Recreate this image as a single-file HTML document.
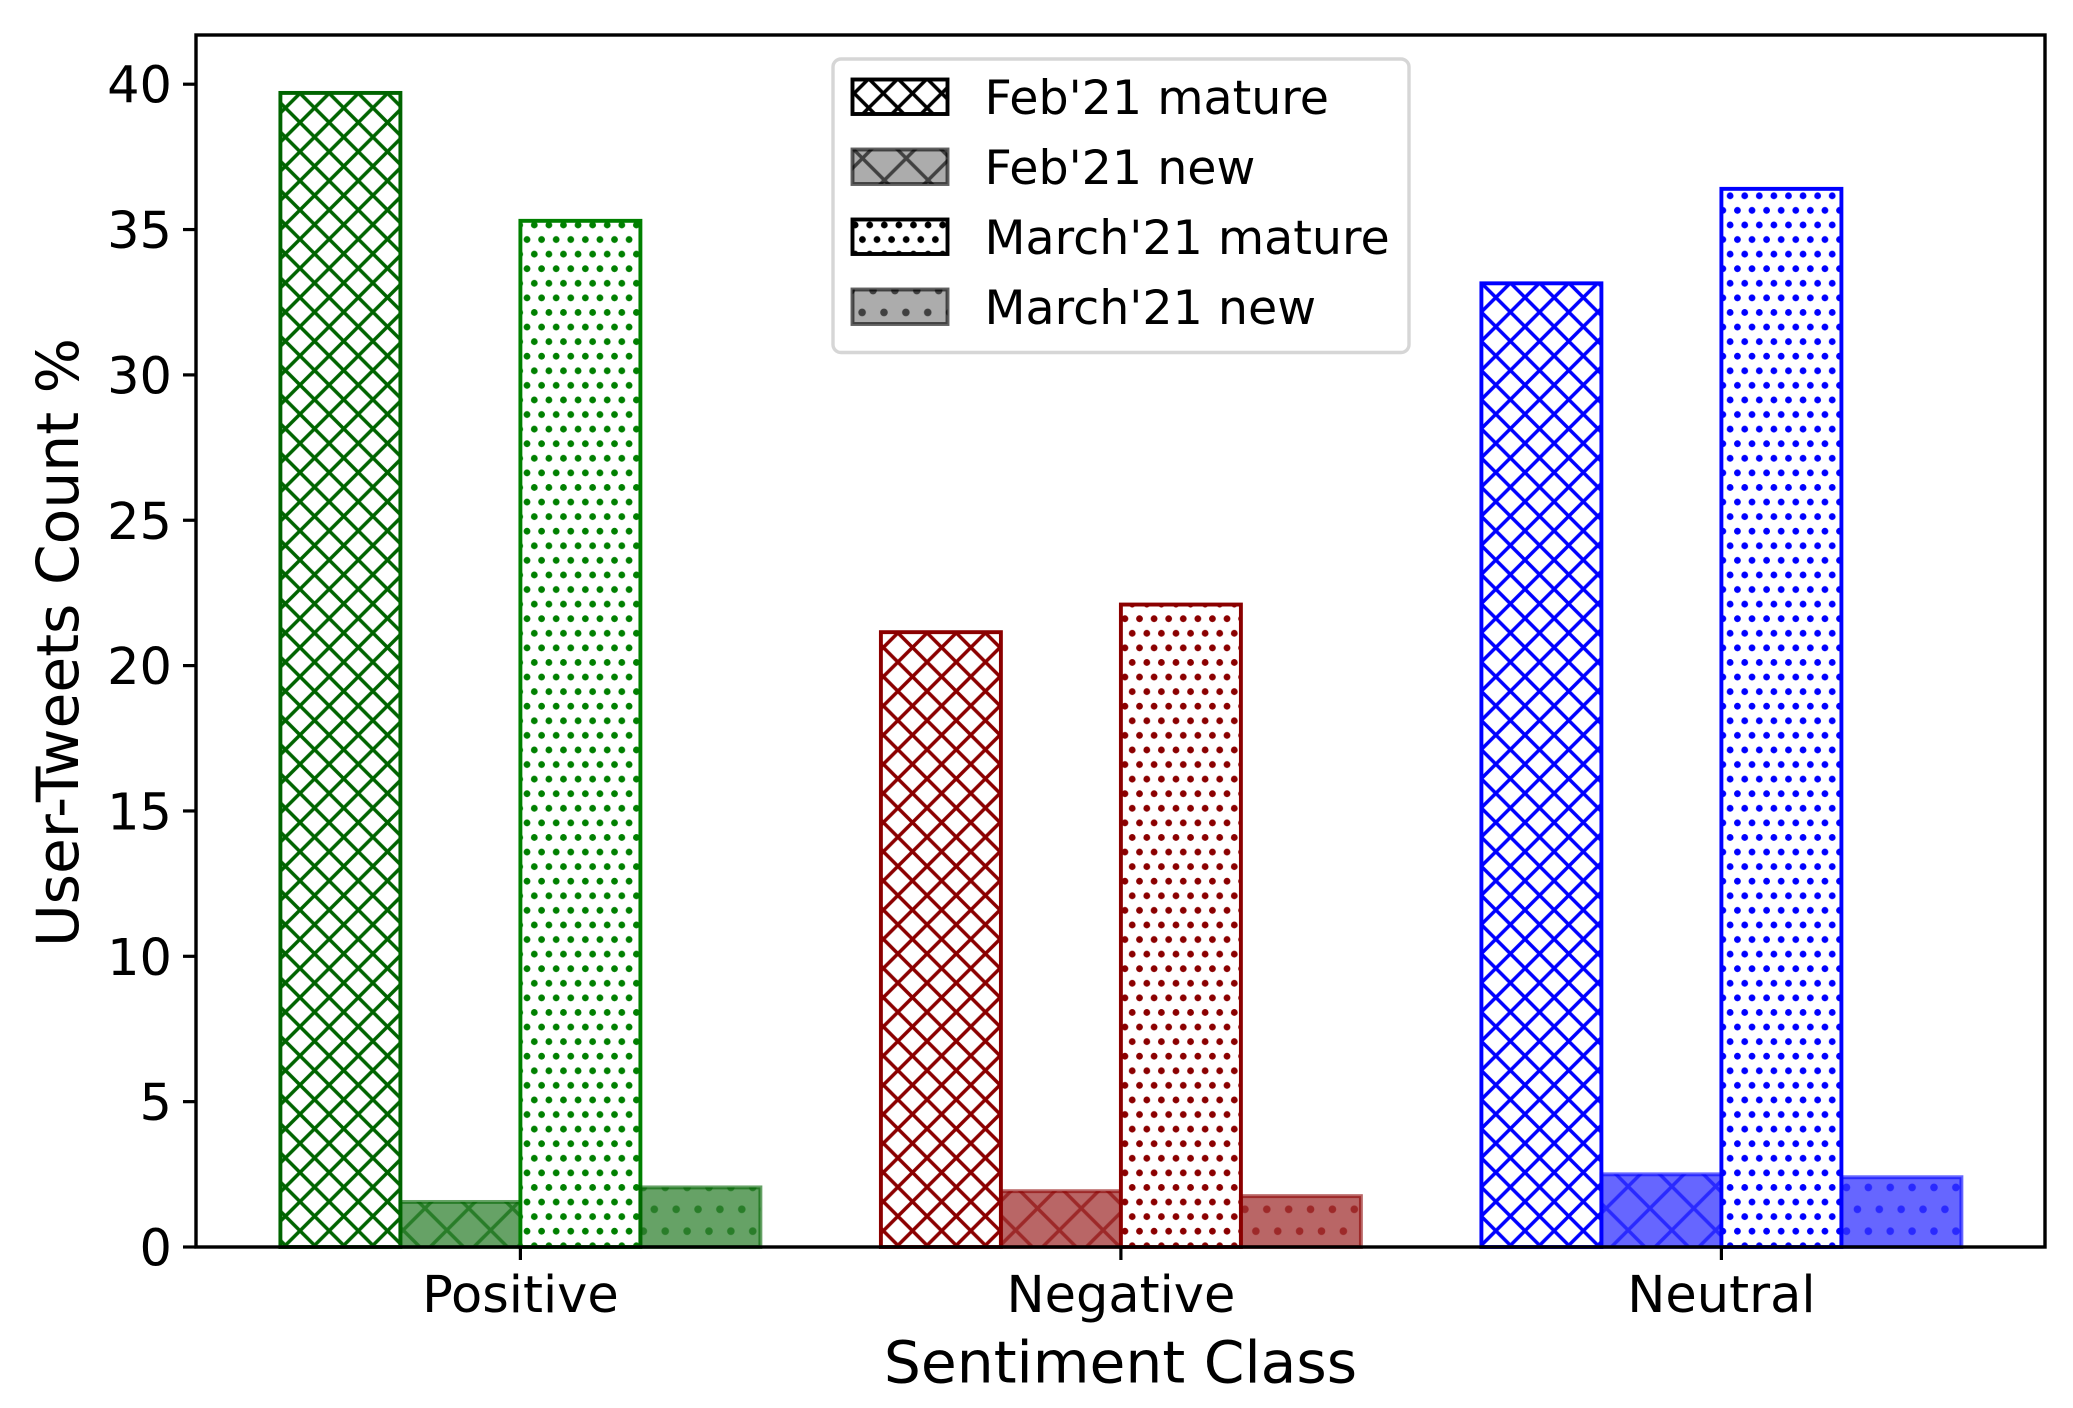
<!DOCTYPE html>
<html lang="en">
<head>
<meta charset="utf-8">
<title>User-Tweets Count by Sentiment Class</title>
<style>
html,body{margin:0;padding:0;background:#fff;width:2073px;height:1408px;overflow:hidden}
svg{display:block}
text{font-family:"DejaVu Sans","Liberation Sans",sans-serif;fill:#000}
</style>
</head>
<body>
<svg id="chart" xmlns="http://www.w3.org/2000/svg" width="2073" height="1408" viewBox="0 0 2073 1408">
  <defs id="defs"></defs>
  <rect x="0" y="0" width="2073" height="1408" fill="#fff"/>
  <g id="bars"></g>
  <g id="axes"></g>
  <text x="1120.5" y="1382.5" font-size="58.3" text-anchor="middle">Sentiment Class</text>
  <text transform="translate(78,642.5) rotate(-90)" font-size="58.3" text-anchor="middle">User-Tweets Count %</text>
  <g id="legend"></g>
</svg>
<script>
var categories = ["Positive", "Negative", "Neutral"];
var seriesNames = ["Feb'21 mature", "Feb'21 new", "March'21 mature", "March'21 new"];
var febMature = [39.7, 21.15, 33.15];
var febNew = [1.55, 1.92, 2.5];
var marchMature = [35.3, 22.1, 36.4];
var marchNew = [2.05, 1.75, 2.4];
var yTicks = [0, 5, 10, 15, 20, 25, 30, 35, 40];

var NS = "http://www.w3.org/2000/svg";
var plot = {left: 196, right: 2045, top: 35, bottom: 1247};
var yPerUnit = 29.07;
var xPerCategory = 600.5;
var barWidth = 120;
var firstCenter = 520.4;
function xScale(i) { return firstCenter + i * xPerCategory; }
function yScale(v) { return plot.bottom - v * yPerUnit; }

function make(tag, attrs, parent) {
  var el = document.createElementNS(NS, tag);
  for (var k in attrs) el.setAttribute(k, attrs[k]);
  if (parent) parent.appendChild(el);
  return el;
}
var defs = document.getElementById("defs");
var patternCount = 0;

function crossPattern(color, period, ox, oy, opacity, lw) {
  var id = "hatch" + (patternCount++);
  var p = make("pattern", {id: id, patternUnits: "userSpaceOnUse", x: ox, y: oy, width: period, height: period}, defs);
  make("path", {d: "M-2 -2L" + (period + 2) + " " + (period + 2) + "M-2 " + (period + 2) + "L" + (period + 2) + " -2",
    stroke: color, "stroke-width": lw, "stroke-opacity": opacity, fill: "none"}, p);
  return "url(#" + id + ")";
}
function dotPattern(color, period, ox, oy, opacity, r) {
  var id = "hatch" + (patternCount++);
  var p = make("pattern", {id: id, patternUnits: "userSpaceOnUse", x: ox, y: oy, width: period, height: 2 * period}, defs);
  var pts = [[0, 0], [period, 0], [0, 2 * period], [period, 2 * period], [period / 2, period]];
  pts.forEach(function (c) {
    make("circle", {cx: c[0], cy: c[1], r: r, fill: color, "fill-opacity": opacity}, p);
  });
  return "url(#" + id + ")";
}
var T = 350;
function hatchFor(kind, color, opacity) {
  if (kind === 0) return crossPattern(color, T / 12, 300, 93.3, 1, 3.5);
  if (kind === 1) return crossPattern(color, T / 8, 425, 1208.3, opacity, 3.5);
  if (kind === 2) return dotPattern(color, T / 24, 534.3, 1158.3, 1, 3.4);
  return dotPattern(color, T / 16, 654.3, 1209.3, opacity, 3.8);
}

var barColors = [
  ["#006400", "#006400", "#008000", "#006400"],
  ["#8b0000", "#8b0000", "#8b0000", "#8b0000"],
  ["#0000ff", "#0000ff", "#0000ff", "#0000ff"]
];
var seriesValues = [febMature, febNew, marchMature, marchNew];
var barsGroup = document.getElementById("bars");

function drawBar(parent, x, y, w, h, kind, color, isNew) {
  var fillEl = make("rect", {x: x, y: y, width: w, height: h}, parent);
  if (isNew) {
    fillEl.setAttribute("fill", color);
    fillEl.setAttribute("fill-opacity", "0.6");
  } else {
    fillEl.setAttribute("fill", "#fff");
  }
  make("rect", {x: x, y: y, width: w, height: h, fill: hatchFor(kind, color, 0.6)}, parent);
  make("rect", {x: x, y: y, width: w, height: h, fill: "none", stroke: color,
    "stroke-width": 3.9, "stroke-opacity": isNew ? 0.6 : 1}, parent);
}

categories.forEach(function (cat, c) {
  seriesValues.forEach(function (vals, s) {
    var g = make("g", {}, barsGroup);
    
    
    var x0 = xScale(c) + (s - 2) * barWidth;
    var y0 = yScale(vals[c]);
    drawBar(g, x0, y0, barWidth, plot.bottom - y0, s, barColors[c][s], s % 2 === 1);
  });
});

var axes = document.getElementById("axes");
var spine = make("rect", {x: plot.left, y: plot.top, width: plot.right - plot.left, height: plot.bottom - plot.top,
  fill: "none", stroke: "#000", "stroke-width": 3.4}, axes);



yTicks.forEach(function (t) {
  var y = yScale(t);
  var line = make("line", {x1: plot.left - 13, x2: plot.left, y1: y, y2: y, stroke: "#000", "stroke-width": 3.2}, axes);
  
  
  var label = make("text", {x: 172, y: y + 18.5, "font-size": 51, "text-anchor": "end"}, axes);
  label.textContent = String(t);
  
  
});
categories.forEach(function (cat, c) {
  var x = xScale(c);
  var line = make("line", {x1: x, x2: x, y1: plot.bottom, y2: plot.bottom + 13, stroke: "#000", "stroke-width": 3.2}, axes);
  
  
  var label = make("text", {x: x, y: 1312, "font-size": 51, "text-anchor": "middle"}, axes);
  label.textContent = cat;
  
  
});

var legend = document.getElementById("legend");
var legendBox = make("rect", {x: 833, y: 59, width: 576, height: 293.5, rx: 8, ry: 8, fill: "#fff", "fill-opacity": 0.9,
  stroke: "#d6d6d6", "stroke-width": 3.4}, legend);


seriesNames.forEach(function (name, i) {
  var rowY = 79.5 + i * 70;
  var g = make("g", {}, legend);
  
  
  var isNew = i % 2 === 1;
  var baseColor = isNew ? "#808080" : "#fff";
  var x = 852.5, w = 95, h = 34.5;
  make("rect", {x: x, y: rowY, width: w, height: h, fill: baseColor, "fill-opacity": isNew ? 0.65 : 1}, g);
  make("rect", {x: x, y: rowY, width: w, height: h, fill: hatchFor(i, "#000", 0.62)}, g);
  make("rect", {x: x, y: rowY, width: w, height: h, fill: "none", stroke: "#000",
    "stroke-width": 3.9, "stroke-opacity": isNew ? 0.62 : 1}, g);
  var label = make("text", {x: 984.5, y: 114 + i * 70, "font-size": 47.5}, g);
  label.textContent = name;
});
</script>
</body>
</html>
